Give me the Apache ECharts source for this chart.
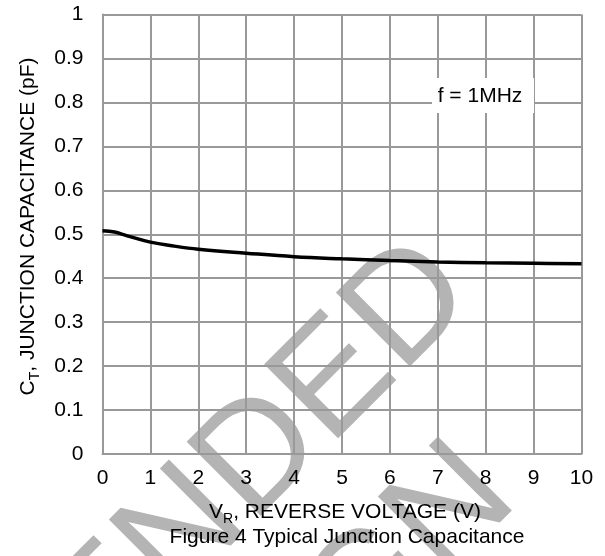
<!DOCTYPE html>
<html><head><meta charset="utf-8">
<script src="https://cdn.jsdelivr.net/npm/echarts@6/dist/echarts.min.js"></script>
<style>html,body{margin:0;padding:0;background:#fff}#c{width:605px;height:556px}</style>
</head><body><div id="c"></div>
<script>
// ---- data ----
const voltage = [0, 0.25, 0.5, 1, 1.5, 2, 3, 4, 5, 6, 7, 8, 9, 10];
const capacitance = [0.508, 0.505, 0.497, 0.482, 0.473, 0.466, 0.457, 0.449, 0.444, 0.440, 0.437, 0.435, 0.434, 0.433];
const xTickLabels = ['0','1','2','3','4','5','6','7','8','9','10'];
const yTickLabels = ['0','0.1','0.2','0.3','0.4','0.5','0.6','0.7','0.8','0.9','1'];
const xTitleMain = 'V';
const xTitleSub = 'R';
const xTitleRest = ', REVERSE VOLTAGE (V)';
const yTitleMain = 'C';
const yTitleSub = 'T';
const yTitleRest = ', JUNCTION CAPACITANCE (pF)';
const caption = 'Figure 4 Typical Junction Capacitance';
const annotation = 'f = 1MHz';
const watermark1 = 'NOT RECOMMENDED';
const watermark2 = 'FOR NEW DESIGN';

// ---- chart ----
const FONT = 'Liberation Sans, Arial, sans-serif';
const GRID_COLOR = '#999999';
const chart = echarts.init(document.getElementById('c'), null, {renderer: 'canvas'});

const richTitle = {
  m: {fontSize: 21, fontFamily: FONT, color: '#000', lineHeight: 21, verticalAlign: 'top'},
  s: {fontSize: 14, fontFamily: FONT, color: '#000', lineHeight: 14, verticalAlign: 'top', padding: [11, 0, 0, 0]}
};

const seriesData = voltage.map((v, i) => [v, capacitance[i]]);

chart.setOption({
  animation: false,
  backgroundColor: '#fff',
  grid: {left: 102.5, right: 23.5, top: 14.5, bottom: 102, containLabel: false},
  xAxis: {
    type: 'value', min: 0, max: 10, interval: 1,
    axisLine: {show: true, lineStyle: {color: GRID_COLOR, width: 2}},
    axisTick: {show: false},
    splitLine: {show: true, lineStyle: {color: GRID_COLOR, width: 2}},
    axisLabel: {
      margin: 14, fontSize: 21, fontFamily: FONT, color: '#000',
      formatter: v => xTickLabels[Math.round(v)]
    }
  },
  yAxis: {
    type: 'value', min: 0, max: 1, interval: 0.1,
    axisLine: {show: true, lineStyle: {color: GRID_COLOR, width: 2}},
    axisTick: {show: false},
    splitLine: {show: true, lineStyle: {color: GRID_COLOR, width: 2}},
    axisLabel: {
      margin: 19, fontSize: 21, fontFamily: FONT, color: '#000',
      formatter: v => yTickLabels[Math.round(v * 10)]
    }
  },
  series: [{
    type: 'line', data: seriesData, smooth: 0.4, symbol: 'none', z: 5,
    lineStyle: {color: '#000', width: 3.5}
  }],
  graphic: [
    {type: 'text', x: 449, y: 268, rotation: Math.PI / 4, z: -10, silent: true,
     style: {text: watermark1, fontSize: 152, fontFamily: FONT, fill: '#b4b4b4',
             textAlign: 'right', align: 'right', textVerticalAlign: 'middle', verticalAlign: 'middle'}},
    {type: 'text', x: 491, y: 472, rotation: Math.PI / 4, z: -10, silent: true,
     style: {text: watermark2, fontSize: 152, fontFamily: FONT, fill: '#b4b4b4',
             textAlign: 'right', align: 'right', textVerticalAlign: 'middle', verticalAlign: 'middle'}},
    {type: 'rect', z: 20, shape: {x: 432, y: 78, width: 102, height: 35}, style: {fill: '#fff'}},
    {type: 'text', z: 21, x: 480, y: 96,
     style: {text: annotation, fontSize: 21, fontFamily: FONT, fill: '#000',
             textAlign: 'center', align: 'center', textVerticalAlign: 'middle', verticalAlign: 'middle'}},
    {type: 'text', z: 21, x: 345, y: 512,
     style: {text: '{m|' + xTitleMain + '}{s|' + xTitleSub + '}{m|' + xTitleRest + '}', rich: richTitle,
             fontSize: 21, fontFamily: FONT, fill: '#000',
             textAlign: 'center', align: 'center', textVerticalAlign: 'middle', verticalAlign: 'middle'}},
    {type: 'text', z: 21, x: 28, y: 226.5, rotation: Math.PI / 2,
     style: {text: '{m|' + yTitleMain + '}{s|' + yTitleSub + '}{m|' + yTitleRest + '}', rich: richTitle,
             fontSize: 21, fontFamily: FONT, fill: '#000',
             textAlign: 'center', align: 'center', textVerticalAlign: 'middle', verticalAlign: 'middle'}},
    {type: 'text', z: 21, x: 347, y: 537,
     style: {text: caption, fontSize: 21, fontFamily: FONT, fill: '#000',
             textAlign: 'center', align: 'center', textVerticalAlign: 'middle', verticalAlign: 'middle'}}
  ]
});
</script>
</body></html>
